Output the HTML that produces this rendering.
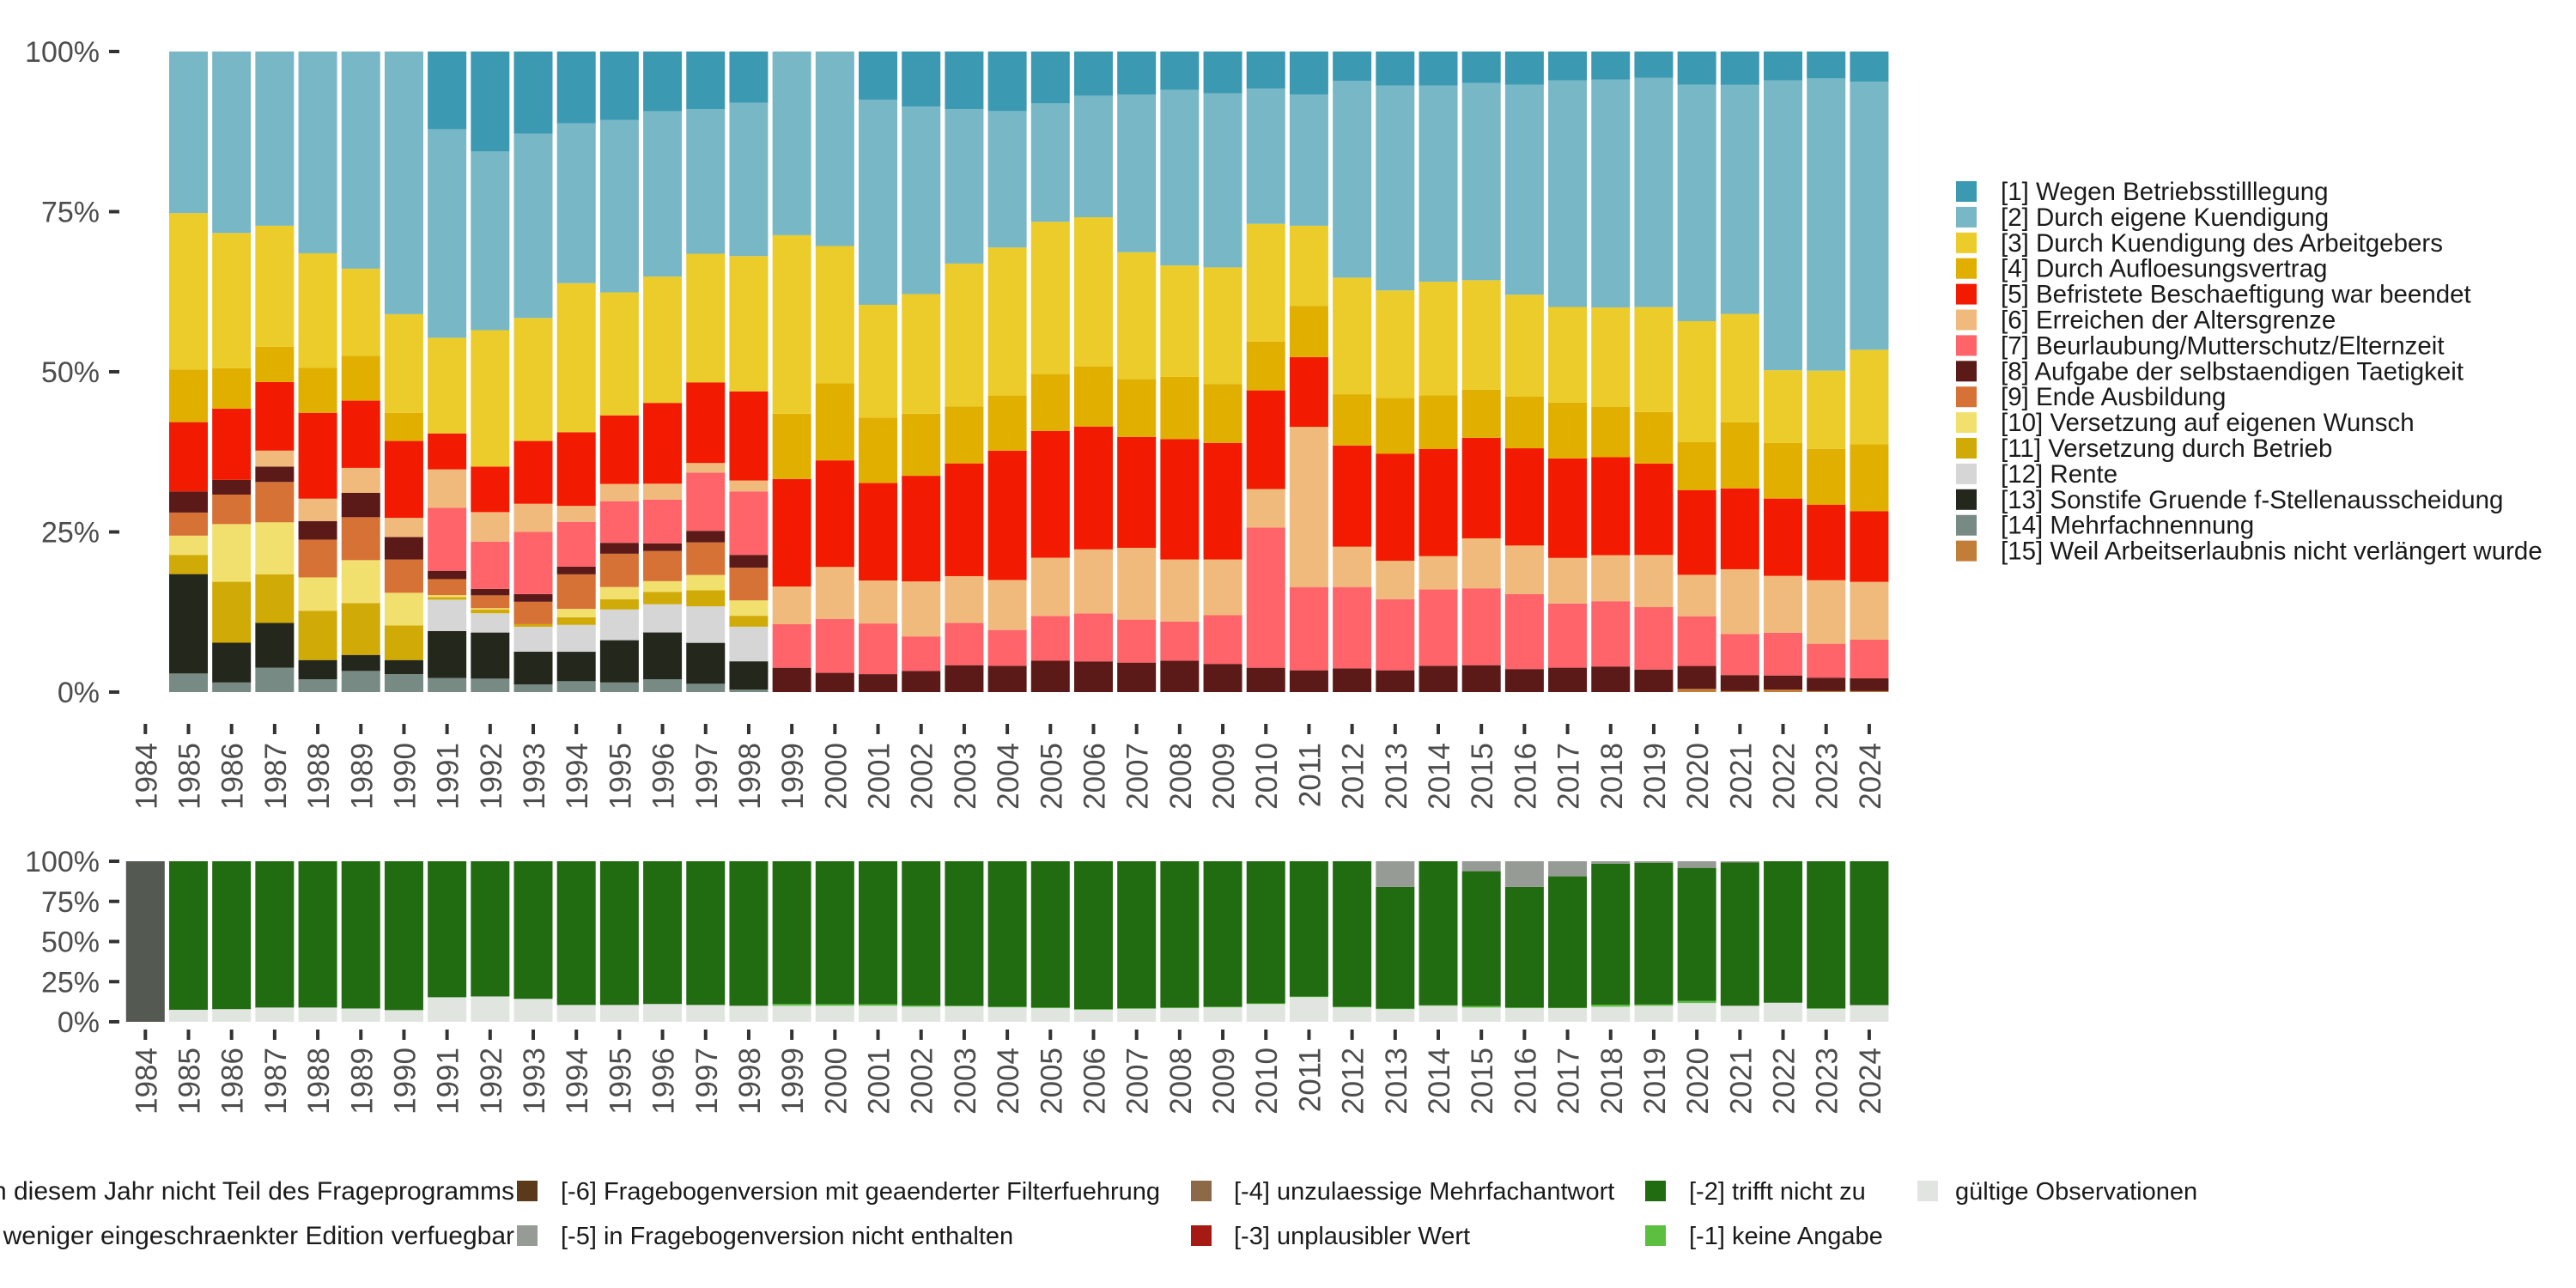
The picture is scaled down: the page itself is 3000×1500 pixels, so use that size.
<!DOCTYPE html>
<html><head><meta charset="utf-8">
<style>
html,body{margin:0;padding:0;background:#fff;}
svg{display:block;font-family:"Liberation Sans",sans-serif;}
</style></head>
<body>
<svg id="chart" width="3000" height="1500" viewBox="0 0 3000 1500" xmlns="http://www.w3.org/2000/svg">
<g id="top-plot"></g>
<g id="bottom-plot"></g>
<g id="right-legend"></g>
<g id="bottom-legend"></g>
</svg>
<script>
const years = [1984,1985,1986,1987,1988,1989,1990,1991,1992,1993,1994,1995,1996,1997,1998,1999,2000,2001,2002,2003,2004,2005,2006,2007,2008,2009,2010,2011,2012,2013,2014,2015,2016,2017,2018,2019,2020,2021,2022,2023,2024];
const barYears = [1985,1986,1987,1988,1989,1990,1991,1992,1993,1994,1995,1996,1997,1998,1999,2000,2001,2002,2003,2004,2005,2006,2007,2008,2009,2010,2011,2012,2013,2014,2015,2016,2017,2018,2019,2020,2021,2022,2023,2024];
const yTicks = [0,25,50,75,100];
const yTickLabels = ["0%","25%","50%","75%","100%"];
const catLabels = ["[1] Wegen Betriebsstilllegung","[2] Durch eigene Kuendigung","[3] Durch Kuendigung des Arbeitgebers","[4] Durch Aufloesungsvertrag","[5] Befristete Beschaeftigung war beendet","[6] Erreichen der Altersgrenze","[7] Beurlaubung/Mutterschutz/Elternzeit","[8] Aufgabe der selbstaendigen Taetigkeit","[9] Ende Ausbildung","[10] Versetzung auf eigenen Wunsch","[11] Versetzung durch Betrieb","[12] Rente","[13] Sonstife Gruende f-Stellenausscheidung","[14] Mehrfachnennung","[15] Weil Arbeitserlaubnis nicht verlängert wurde"];
const catColors = ["#3b9ab2","#78b7c5","#ebcc2a","#e1af00","#f21a00","#f0ba7d","#fe646a","#5b1a18","#d67236","#f2e06e","#d0aa07","#d6d6d6","#24271c","#778a84","#c27d38"];
const c1 = [0,0,0,0,0,0,12.1,15.6,12.8,11.2,10.7,9.3,9.0,8.0,0,0,7.5,8.6,9.0,9.3,8.1,6.9,6.7,6.0,6.5,5.8,6.7,4.6,5.3,5.3,4.9,5.2,4.5,4.4,4.1,5.2,5.2,4.5,4.2,4.7];
const c2 = [25.2,28.3,27.2,31.5,33.9,41.0,32.5,27.9,28.8,25.0,26.9,25.8,22.6,23.9,28.7,30.3,32.0,29.3,24.1,21.3,18.5,19.0,24.6,27.4,27.2,21.1,20.5,30.7,32.0,30.6,30.8,32.8,35.3,35.6,35.6,37.1,35.7,45.4,45.6,41.7];
const c3 = [24.4,21.1,18.9,17.9,13.6,15.4,14.9,21.3,19.2,23.3,19.2,19.7,20.1,21.1,27.9,21.4,17.6,18.7,22.3,23.1,23.8,23.3,19.8,17.4,18.2,18.4,12.5,18.2,16.8,17.7,17.1,15.9,14.9,15.5,16.3,19.0,16.9,11.4,12.2,14.7];
const c4 = [8.2,6.3,5.5,7.0,7.0,4.4,0,0,0,0,0,0,0,0,10.2,12.0,10.2,9.7,8.9,8.6,8.9,9.4,9.0,9.7,9.2,7.6,8.0,8.0,8.7,8.4,7.5,8.1,8.7,7.9,8.0,7.5,10.3,8.7,8.7,10.4];
const c5 = [10.8,11.1,10.7,13.4,10.5,12.0,5.6,7.1,9.8,11.5,10.7,12.6,12.6,13.9,16.8,16.6,15.2,16.5,17.6,20.2,19.8,19.2,17.3,18.8,18.2,15.4,10.9,15.8,16.7,16.7,15.7,15.2,15.5,15.3,14.2,13.3,12.6,12.1,11.8,11.0];
const c6 = [0,0,2.5,3.5,3.9,3.0,6.0,4.6,4.4,2.5,2.7,2.5,1.5,1.7,5.9,8.1,6.7,8.6,7.3,7.8,9.1,10.0,11.2,9.7,8.7,6.0,25.0,6.3,6.0,5.2,7.8,7.6,7.1,7.2,8.1,6.5,10.1,8.9,9.9,9.0];
const c7 = [0,0,0,0,0,0,9.8,7.4,9.7,7.0,6.5,6.8,9.1,9.9,6.8,8.4,7.9,5.4,6.6,5.6,7.0,7.5,6.7,6.1,7.6,21.9,13.0,12.7,11.1,11.9,12.0,11.7,10.0,10.2,9.7,7.8,6.4,6.7,5.3,6.0];
const c8 = [3.3,2.3,2.4,2.9,3.8,3.5,1.3,1.0,1.2,1.2,1.7,1.2,1.8,2.0,3.8,3.0,2.8,3.3,4.2,4.1,4.9,4.8,4.6,4.9,4.4,3.8,3.4,3.7,3.4,4.1,4.2,3.6,3.8,4.0,3.5,3.6,2.5,2.2,2.1,2.0];
const c9 = [3.6,4.6,6.3,5.9,6.7,5.2,2.5,2.0,3.5,5.4,5.2,4.7,5.1,5.1,0,0,0,0,0,0,0,0,0,0,0,0,0,0,0,0,0,0,0,0,0,0,0,0,0,0];
const c10 = [3.0,9.0,8.1,5.2,6.7,5.1,0.3,0.2,0,1.3,1.9,1.7,2.4,2.4,0,0,0,0,0,0,0,0,0,0,0,0,0,0,0,0,0,0,0,0,0,0,0,0,0,0];
const c11 = [3.0,9.5,7.6,7.7,8.1,5.4,0.4,0.6,0.4,1.2,1.6,1.9,2.5,1.7,0,0,0,0,0,0,0,0,0,0,0,0,0,0,0,0,0,0,0,0,0,0,0,0,0,0];
const c12 = [0,0,0,0,0,0,4.9,3.0,3.9,4.2,4.8,4.4,5.7,5.4,0,0,0,0,0,0,0,0,0,0,0,0,0,0,0,0,0,0,0,0,0,0,0,0,0,0];
const c13 = [15.5,6.2,7.0,3.0,2.5,2.2,7.3,7.2,5.1,4.6,6.6,7.3,6.4,4.4,0,0,0,0,0,0,0,0,0,0,0,0,0,0,0,0,0,0,0,0,0,0,0,0,0,0];
const c14 = [2.9,1.5,3.8,2.0,3.3,2.8,2.2,2.1,1.2,1.7,1.5,2.0,1.3,0.4,0,0,0,0,0,0,0,0,0,0,0,0,0,0,0,0,0,0,0,0,0,0,0,0,0,0];
const c15 = [0,0,0,0,0,0,0,0,0,0,0,0,0,0,0,0,0,0,0,0,0,0,0,0,0,0,0,0,0,0,0,0,0,0,0,0.5,0.15,0.4,0.15,0.15,0.5];
const topSeries = [c1,c2,c3,c4,c5,c6,c7,c8,c9,c10,c11,c12,c13,c14,c15];

const missLabels = ["[-8] in diesem Jahr nicht Teil des Frageprogramms","[-7] nur in weniger eingeschraenkter Edition verfuegbar","[-6] Fragebogenversion mit geaenderter Filterfuehrung","[-5] in Fragebogenversion nicht enthalten","[-4] unzulaessige Mehrfachantwort","[-3] unplausibler Wert","[-2] trifft nicht zu","[-1] keine Angabe","gültige Observationen"];
const missColors = ["#545a52","#b0b3ae","#5a3a1a","#979b95","#8c6a48","#a51b14","#216b10","#5cbf40","#e1e5e0"];
const m8 = [100,0,0,0,0,0,0,0,0,0,0,0,0,0,0,0,0,0,0,0,0,0,0,0,0,0,0,0,0,0,0,0,0,0,0,0,0,0,0,0,0];
const m5 = [0,0,0,0,0,0,0,0,0,0,0,0,0,0,0,0,0,0,0,0,0,0,0,0,0,0,0,0,0,16.0,0,6.2,16.0,9.4,1.5,0.9,4.1,0.8,0,0,0];
const m1 = [0,0,0,0,0,0,0,0,0,0,0,0,0,0,0,1.1,1.0,1.0,0.8,0.5,0.4,0.4,0.4,0.3,0.4,0.4,0.4,0.3,0.4,0.3,0.3,1.0,0.4,0.3,1.3,0.8,1.3,0,0,0.3,0];
const mValid = [0,7.5,7.9,8.9,8.9,8.3,7.3,15.3,15.8,14.3,10.5,10.5,11.1,10.5,10.0,10.0,10.0,10.0,9.4,9.6,9.0,8.5,7.5,8.1,8.5,9.0,11.1,15.4,9.0,7.9,10.0,8.9,8.5,8.5,9.4,10.0,11.7,10.0,11.9,8.1,10.4];

const NS = "http://www.w3.org/2000/svg";
function mk(parent, tag, attrs, text){
  const el = document.createElementNS(NS, tag);
  for (const k in attrs) el.setAttribute(k, attrs[k]);
  if (text !== undefined) el.textContent = text;
  parent.appendChild(el);
  return el;
}
const X0 = 169.3, PITCH = 50.19, BW = 45;
function xScale(yr){ return X0 + PITCH*(yr-1984); }
function makeY(top, bottom){ return v => bottom - (bottom-top)*v/100; }
const yTop = makeY(60, 806);
const yBot = makeY(1003, 1190);

function axes(g, yS, tickY0, labelY0, prefix){
  yTicks.forEach((t,i)=>{
    const tk = mk(g,'line',{x1:127,x2:139,y1:yS(t),y2:yS(t),stroke:'#333',"stroke-width":4});
    
    
    const lb = mk(g,'text',{x:116,y:yS(t)+12,"text-anchor":"end","font-size":34,fill:'#4d4d4d'}, yTickLabels[i]);
    
    
  });
  years.forEach(yr=>{
    const x = xScale(yr);
    const tk = mk(g,'line',{x1:x,x2:x,y1:tickY0,y2:tickY0+12,stroke:'#333',"stroke-width":4});
    
    
    const lb = mk(g,'text',{x:0,y:0,"text-anchor":"end","font-size":35,fill:'#4d4d4d',transform:`translate(${x+13},${labelY0}) rotate(-90)`}, String(yr));
    
    
  });
}

const gt = document.getElementById('top-plot');
axes(gt, yTop, 843, 865, 'top');
barYears.forEach((yr,i)=>{
  let total = 0; topSeries.forEach(s=> total += s[i]);
  let cum = 0;
  for (let k=topSeries.length-1;k>=0;k--){
    const v = topSeries[k][i]/total*100;
    if (v<=0) continue;
    const r = mk(gt,'rect',{x:xScale(yr)-BW/2,y:yTop(cum+v),width:BW,height:yTop(cum)-yTop(cum+v),fill:catColors[k]});
    
    
    cum += v;
  }
});

const gb = document.getElementById('bottom-plot');
axes(gb, yBot, 1199, 1220, 'bottom');
years.forEach((yr,i)=>{
  const m2 = Math.max(0, 100 - m8[i] - m5[i] - m1[i] - mValid[i]);
  const vals = [m8[i],0,0,m5[i],0,0,m2,m1[i],mValid[i]];
  let cum = 0;
  for (let k=vals.length-1;k>=0;k--){
    const v = vals[k];
    if (v<=0) continue;
    const r = mk(gb,'rect',{x:xScale(yr)-BW/2,y:yBot(cum+v),width:BW,height:yBot(cum)-yBot(cum+v),fill:missColors[k]});
    
    
    cum += v;
  }
});

const gl = document.getElementById('right-legend');
catLabels.forEach((lab,i)=>{
  const cy = 223 + 29.9*i;
  const g = mk(gl,'g',{});
  
  
  mk(g,'rect',{x:2278,y:cy-12,width:24,height:24,fill:catColors[i]});
  mk(g,'text',{x:2330,y:cy+10,"font-size":29.5,fill:'#1a1a1a'}, lab);
});

const gbl = document.getElementById('bottom-legend');
const colKeyX = [null, 602, 1387, 1916, 2233];
const colTextX = [599, 653, 1437, 1967, 2277];
const rowY = [1387, 1439];
missLabels.forEach((lab,i)=>{
  const col = Math.floor(i/2), row = i%2;
  const cy = rowY[row];
  const g = mk(gbl,'g',{});
  
  
  if (col===0){
    mk(g,'text',{x:colTextX[0],y:cy+10,"font-size":30,fill:'#1a1a1a',"text-anchor":"end"}, lab);
  } else {
    mk(g,'rect',{x:colKeyX[col],y:cy-12,width:24,height:24,fill:missColors[i]});
    mk(g,'text',{x:colTextX[col],y:cy+10,"font-size":29,fill:'#1a1a1a'}, lab);
  }
});
</script>
</body></html>
